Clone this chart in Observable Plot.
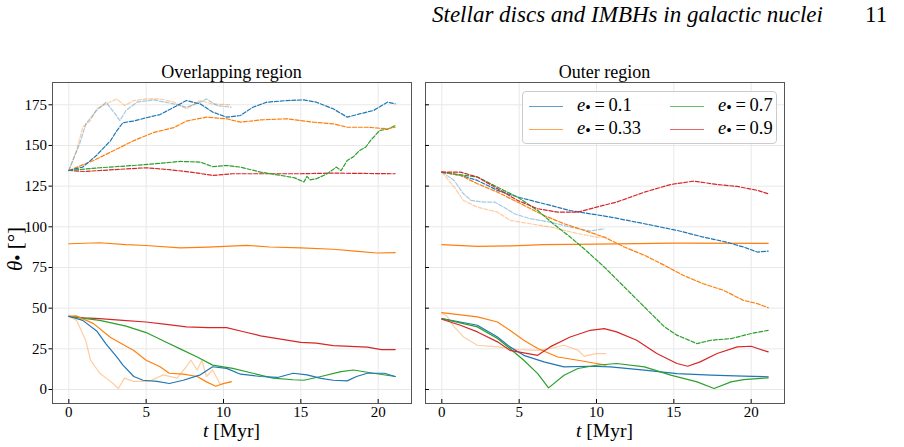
<!DOCTYPE html>
<html><head><meta charset="utf-8">
<script src="https://cdn.jsdelivr.net/npm/d3@7"></script>
<script src="https://cdn.jsdelivr.net/npm/@observablehq/plot@0.6"></script>
<style>
body{margin:0;background:#fff;}
#wrap{position:relative;width:904px;height:447px;font-family:"Liberation Serif","Times New Roman",serif;color:#000;overflow:hidden}
#wrap svg{position:absolute;left:0;top:0}
.abs{position:absolute;white-space:nowrap;line-height:1}
.lg{position:absolute;height:0;border-top:1.5px solid}
.lt{position:absolute;font-size:18.5px;line-height:1;white-space:nowrap}
.sb{font-size:0.85em;position:relative;top:0.12em}
.it{font-style:italic}
</style></head>
<body>
<div id="wrap">
  <div class="abs" style="left:432px;top:3px;font-size:23px;font-style:italic;font-family:'Liberation Serif','Times New Roman',serif">Stellar discs and IMBHs in galactic nuclei</div>
  <div class="abs" style="left:865px;top:3px;font-size:23px">11</div>
  <div class="abs" style="left:231.5px;top:63px;font-size:18px;transform:translateX(-50%)">Overlapping region</div>
  <div class="abs" style="left:604.5px;top:63px;font-size:18px;transform:translateX(-50%)">Outer region</div>
  <div class="abs" style="left:231.5px;top:422px;font-size:19.5px;line-height:0.9;transform:translateX(-50%)"><span class="it">t</span>&nbsp;[Myr]</div>
  <div class="abs" style="left:604.5px;top:422px;font-size:19.5px;line-height:0.9;transform:translateX(-50%)"><span class="it">t</span>&nbsp;[Myr]</div>
  <div class="abs" style="left:15px;top:249px;font-size:21px;transform:translate(-50%,-50%) rotate(-90deg)"><span class="it">θ</span><span class="sb">•</span> [°]</div>
</div>
<script>
// ---- axis ticks ----
const xTicks = [0, 5, 10, 15, 20];
const yTicks = [0, 25, 50, 75, 100, 125, 150, 175];
const xDomain = [-1.055, 22.155];
const yDomain = [-8.6, 188.7];

// ---- legend ----
const eccLabels = ["0.1", "0.33", "0.7", "0.9"];
const eccColors = ["#1f77b4", "#ff7f0e", "#2ca02c", "#d62728"];

// ---- Overlapping region: [t (Myr), theta (deg)] ----
const ovBlueDash = [[0,134.6],[0.9,136.7],[1.8,144],[2.7,153],[3.1,159],[3.5,164],[4.2,165],[5,167],[5.9,169],[6.8,173.5],[7.6,177.6],[8.5,175.5],[9.3,170.5],[10.2,167.4],[11.1,168.4],[11.9,173.5],[12.8,176.6],[14.1,177.6],[15.2,178],[16,176.6],[17.1,172.5],[18,167.4],[18.8,169.4],[19.7,171.5],[20.6,176.6],[21.1,175.6]];
const ovOrangeDash = [[0,134.6],[1.6,140.8],[2.7,145.9],[4.2,153],[5.5,158],[6.8,161],[7.6,165],[8.9,167.4],[10.2,166.4],[11.1,164.3],[12.4,165.7],[14.1,166.4],[14.9,165.4],[15.8,164.3],[17.1,163.3],[18,161.2],[19.3,161.2],[20.6,160.2],[21.1,161.2]];
const ovGreenDash = [[0,134.6],[2,136.3],[4.2,137.7],[5.5,138.7],[7.2,140.2],[8.5,139.8],[9.3,137],[10.2,137.7],[11.1,136.7],[12.4,133.6],[13.7,131.6],[14.6,130.1],[15.2,127.5],[15.4,131],[15.6,128.9],[16,129.5],[16.7,132.6],[17.3,136.7],[17.6,134.5],[18,140.8],[18.4,143],[18.8,146.9],[19.2,149],[19.5,153],[20.1,159.2],[20.6,160],[21.1,162.2]];
const ovRedDash = [[0,134.6],[1,134],[2,134.6],[5,136.3],[6.3,135.3],[8,133.5],[9.3,131.6],[10.6,132.6],[12.8,132.6],[14.9,132.6],[17,133],[21.1,132.6]];
const ovLightOrangeDash = [[0,134.6],[0.5,146.9],[0.9,161.2],[1.4,165.3],[1.8,172.5],[2.4,175.5],[3.1,178.6],[3.6,174.5],[4.2,177.6],[5,178.6],[5.9,178.6],[6.8,176.6],[7.6,172.5],[8.5,177.6],[9.3,175.5],[10.5,175]];
const ovLightBlueDash = [[0,134.6],[0.7,151],[1.1,163.3],[1.8,171.5],[2.4,176.6],[3,169.4],[3.3,165.3],[3.7,171.5],[4.4,176.6],[5.5,178],[6.8,175.5],[7.6,173.5],[8.5,176.6],[8.9,178.6],[9.6,174.5],[10.5,173.5]];
const ovOrangePerp = [[0,89.6],[2,90.2],[3.7,89],[5,88.5],[7.2,87],[9,87.5],[11.5,88.6],[13,87.6],[15,87],[17.1,86.2],[18.5,85],[19.9,83.9],[21.1,84.1]];
const ovRedSolid = [[0,45],[1,44],[2,43.6],[3.5,42.5],[5,41.5],[6.3,40],[7.6,38.5],[9,38],[10.2,38],[11.3,35.5],[12.4,33],[13.7,31],[15,29],[16,28.5],[17.1,27],[18.2,26.5],[19.3,26],[20.2,24.5],[21.1,24.5]];
const ovGreenSolid = [[0,45],[2,42.5],[3.7,39],[5,35],[6.3,29],[7.2,25],[8.3,20],[9.3,15],[10.6,13],[11.9,10],[13.2,7],[14.5,6],[15.2,5.7],[16.3,8],[17.6,11],[18.4,12],[19.7,10],[21.1,8]];
const ovBlueSolid = [[0,45],[0.9,42.5],[1.8,36],[2.4,28],[3.1,20],[3.5,15],[4.2,8],[4.8,5.7],[5.7,5],[6.5,3.7],[7.4,5.7],[8.5,9],[9.3,14],[10.2,13],[11.1,9.4],[12.4,8],[13.5,7.4],[14.5,10],[15.4,9],[16.3,6.8],[17.1,5.7],[18,5.3],[18.6,8],[19.3,10],[20.4,10],[21.1,8]];
const ovOrangeSolid = [[0,45],[0.5,45.2],[1.6,40.5],[2.7,32],[4.2,24],[5,18],[5.9,14],[6.5,10],[7.4,9.4],[8.3,8],[8.9,4.7],[9.5,2],[10,3.7],[10.5,4.7]];
const ovLightOrangeSolid = [[0,45],[0.5,42.5],[1.1,30],[1.4,18],[2,10],[2.7,5],[3.2,0.6],[3.6,7],[4.2,5],[5.2,5],[6.1,9],[7,7],[7.6,14],[7.9,18],[8.3,12],[8.6,18],[8.9,8],[9.3,12],[9.8,3],[10.5,5]];

// ---- Outer region ----
const otBlueDash = [[0,133.6],[1.2,131.6],[2.3,128.5],[3.6,122.4],[4.9,118.3],[6.6,114.2],[8.3,110],[9.6,108],[10.9,106],[13.1,101.9],[15.2,97.8],[16.9,93.7],[18.4,90.6],[19.5,87.6],[20.4,84.5],[21.1,85.1]];
const otRedDash = [[0,133.6],[1.2,133.6],[2.3,130.6],[3.6,123.4],[4.9,116.2],[6.2,111.1],[7.5,109],[8.8,109],[10,112.1],[11.3,115.2],[13.1,121.3],[14.8,126],[16.3,128.1],[17.8,126],[19.1,124.8],[20.4,122.4],[21.1,120.3]];
const otOrangeDash = [[0,133.6],[1.2,131.6],[2.3,126.5],[3.6,121.3],[5.1,114.2],[6.6,107],[7.9,101.9],[9.2,97.8],[10.5,93.7],[11.8,87.6],[13.1,82.5],[14.4,76.3],[15.6,70.2],[16.9,65],[18.2,61],[19.5,54.8],[20.4,52.8],[21.1,50.3]];
const otGreenDash = [[0,133.6],[1.2,132],[2.3,130.6],[4,122.4],[4.9,118.3],[6.2,110],[7.2,101.9],[8.3,93.7],[9.2,86.5],[10.5,75.3],[11.8,63],[13.1,50.7],[14.4,38.5],[15.2,33.4],[16.5,28.2],[17.4,30.3],[18.7,31.3],[20,34.4],[21.1,36.4]];
const otLightBlueDash = [[0,133.6],[0.8,128.5],[1.4,120.3],[1.9,116.2],[2.7,115.2],[3.4,115.2],[4,112.1],[4.7,108],[5.7,105],[7,102.9],[8.3,99.9],[9.6,97.4],[10.5,98.8]];
const otLightOrangeDash = [[0,133.6],[0.8,124.4],[1.4,116.2],[2.3,112.1],[3.6,109],[4.4,104],[5.7,101.9],[7,99.9],[8.8,95.8],[10,93.7],[10.5,93.7]];
const otOrangePerp = [[0,89],[2.3,88],[4.5,88.3],[6.6,89],[10,89.4],[15,90],[21.1,89.8]];
const otOrangeSolid = [[0,47.3],[2.3,44.6],[3.6,41.5],[4.4,36.4],[5.3,30.3],[6.2,25.2],[7.5,20],[8.8,18],[10,16],[10.6,15]];
const otLightOrangeSolid = [[0,46.7],[0.3,45.5],[0.8,38.5],[1.4,32.3],[2.3,27.2],[3.6,26.2],[4.9,24.6],[6.2,24.1],[7,25.2],[7.9,27.2],[8.8,24.1],[9.2,20.5],[10,22.1],[10.6,22.1]];
const otBlueSolid = [[0,43.6],[2.3,39.5],[3.6,32.3],[4.4,26.2],[5.3,21],[6.6,17],[7.9,13.9],[9.6,14.3],[10.9,13.9],[13.1,11.9],[15.2,9.8],[17.4,8.8],[19.5,8.2],[21.1,7.8]];
const otGreenSolid = [[0,43.6],[2.3,38.5],[3.6,31.3],[4.4,25.2],[5.3,18],[6.2,9.8],[6.9,1],[7.9,8.8],[8.8,12.9],[10,14.9],[11.3,16],[13.1,13.9],[14.8,8.8],[16.5,4.7],[17.6,0.6],[18.7,4.7],[19.5,6.1],[21.1,7.2]];
const otRedSolid = [[0,43.2],[1.2,39.5],[2.3,35.4],[3.6,29.3],[4.4,24.1],[5.3,22.5],[6.2,21],[7,26.2],[8.3,32.3],[9.6,36.4],[10.5,37.4],[11.3,35.4],[12.6,30.3],[13.9,22.1],[15.2,16],[15.9,14.3],[16.7,17],[17.8,22.1],[19.1,26.2],[20,26.6],[21.1,23.1]];

const [BLUE, ORANGE, GREEN, RED] = eccColors;
const overlapSeries = [
  {d: ovLightOrangeDash, c: ORANGE, dash: true, light: true},
  {d: ovLightBlueDash, c: BLUE, dash: true, light: true},
  {d: ovLightOrangeSolid, c: ORANGE, dash: false, light: true},
  {d: ovRedDash, c: RED, dash: true},
  {d: ovGreenDash, c: GREEN, dash: true},
  {d: ovOrangeDash, c: ORANGE, dash: true},
  {d: ovBlueDash, c: BLUE, dash: true},
  {d: ovOrangePerp, c: ORANGE, dash: false},
  {d: ovRedSolid, c: RED, dash: false},
  {d: ovGreenSolid, c: GREEN, dash: false},
  {d: ovOrangeSolid, c: ORANGE, dash: false},
  {d: ovBlueSolid, c: BLUE, dash: false}
];
const outerSeries = [
  {d: otLightOrangeDash, c: ORANGE, dash: true, light: true},
  {d: otLightBlueDash, c: BLUE, dash: true, light: true},
  {d: otLightOrangeSolid, c: ORANGE, dash: false, light: true},
  {d: otOrangePerp, c: ORANGE, dash: false},
  {d: otBlueDash, c: BLUE, dash: true},
  {d: otOrangeDash, c: ORANGE, dash: true},
  {d: otGreenDash, c: GREEN, dash: true},
  {d: otRedDash, c: RED, dash: true},
  {d: otOrangeSolid, c: ORANGE, dash: false},
  {d: otBlueSolid, c: BLUE, dash: false},
  {d: otGreenSolid, c: GREEN, dash: false},
  {d: otRedSolid, c: RED, dash: false}
];

function panel(series, ml, mr, showY) {
  const marks = [
    Plot.gridX(xTicks, {stroke: "#e8e8e8", strokeOpacity: 1}),
    Plot.gridY(yTicks, {stroke: "#e8e8e8", strokeOpacity: 1}),
    ...series.map(s => Plot.line(s.d, {
      x: d => d[0], y: d => d[1], stroke: s.c,
      strokeWidth: 1.2,
      strokeOpacity: s.light ? 0.4 : 1,
      strokeDasharray: s.dash ? "4,1.8" : null
    })),
    Plot.frame({stroke: "#555", strokeWidth: 1}),
    Plot.axisX(xTicks, {tickSize: -4, tickPadding: 7, fontSize: 15}),
    showY
      ? Plot.axisY(yTicks, {tickSize: 3.5, tickPadding: 2, fontSize: 15})
      : Plot.axisY(yTicks, {tickSize: -4, tickFormat: () => ""})
  ];
  return Plot.plot({
    width: 904, height: 447,
    marginLeft: ml, marginRight: mr, marginTop: 82, marginBottom: 44,
    x: {domain: xDomain},
    y: {domain: yDomain},
    style: {fontFamily: '"Liberation Serif", serif', fontSize: "15px", color: "#000", background: "transparent", overflow: "visible"},
    marks
  });
}
const wrap = document.getElementById("wrap");
wrap.appendChild(panel(overlapSeries, 52, 493, true));
wrap.appendChild(panel(outerSeries, 425, 120, false));

// legend (HTML, in the right panel)
const lg = document.createElement("div");
lg.style.cssText = "position:absolute;left:522px;top:91px;width:253px;height:51px;border:1px solid #ccc;border-radius:4px;background:rgba(255,255,255,0.85)";
eccLabels.forEach((lab, i) => {
  const col = i < 2 ? 0 : 1, row = i % 2;
  const ly = 14 + row * 23;
  const lx = col === 0 ? 6 : 147;
  const line = document.createElement("div");
  line.className = "lg";
  line.style.cssText += `left:${lx}px;top:${ly}px;width:34px;border-top-color:${eccColors[i]};opacity:0.7`;
  lg.appendChild(line);
  const t = document.createElement("div");
  t.className = "lt";
  t.style.left = (lx + 48) + "px";
  t.style.top = (ly - 10) + "px";
  t.innerHTML = `<i>e</i><span class="sb">•</span>&#8201;=&#8201;${lab}`;
  lg.appendChild(t);
});
wrap.appendChild(lg);
</script>
</body></html>
